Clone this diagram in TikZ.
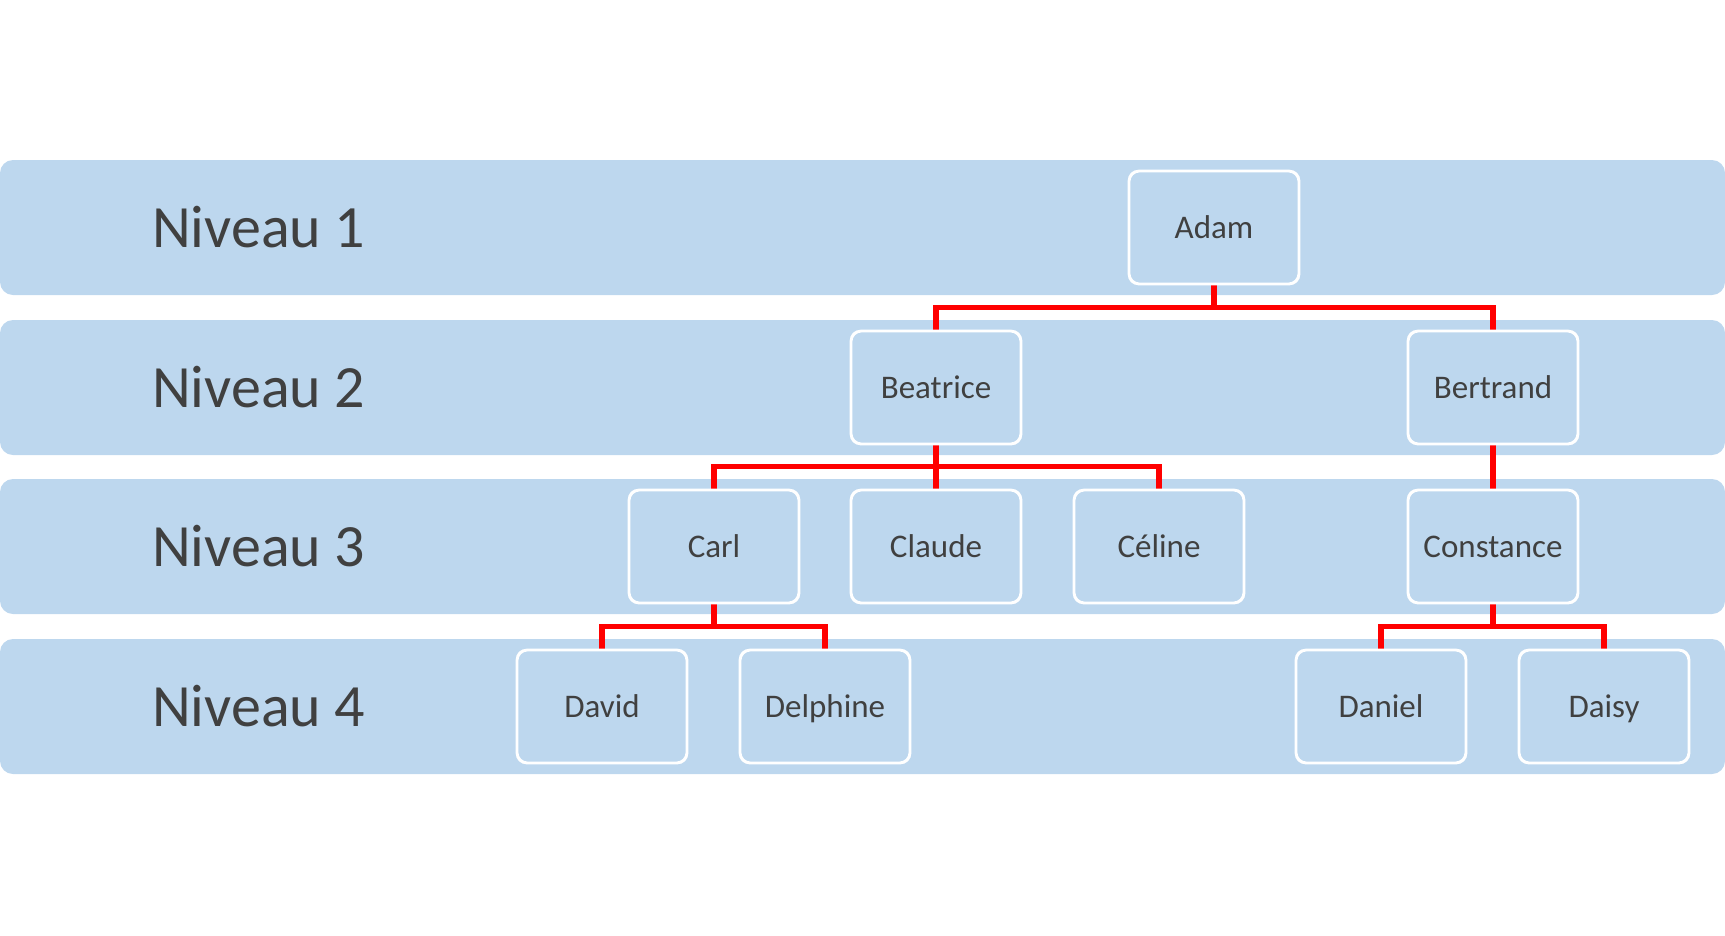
\documentclass[tikz,border=0pt]{standalone}
\usepackage{fontspec}
\setmainfont{Carlito}
\usetikzlibrary{calc}
\definecolor{bandblue}{HTML}{BDD7EE}
\definecolor{textgray}{HTML}{404040}
\definecolor{linkred}{HTML}{FF0000}
\tikzset{
  band/.style={fill=bandblue, draw=none, rounded corners=13pt},
  levellabel/.style={anchor=west, text=textgray, font=\fontsize{60}{70}\selectfont, inner sep=0pt},
  person/.style={draw=white, line width=1.8pt, fill=bandblue, rounded corners=10pt,
    minimum width=169pt, minimum height=112pt, inner sep=0pt, text=textgray,
    text height=24pt, text depth=3pt,
    font=\fontsize{33}{40}\selectfont},
  conn/.style={draw=linkred, line width=5.5pt, line join=miter}
}
\begin{document}
\begin{tikzpicture}[x=1pt,y=-1pt]
\useasboundingbox (0,0) rectangle (1725,935);
% bands
\path[band] (0,160) rectangle (1725,295);
\path[band] (0,320) rectangle (1725,455);
\path[band] (0,479) rectangle (1725,614);
\path[band] (0,639) rectangle (1725,774);
% level labels
\node[levellabel] (n1) at (152,227.5) {Niveau 1};
\node[levellabel] (n2) at (152,387.5) {Niveau 2};
\node[levellabel] (n3) at (152,546.5) {Niveau 3};
\node[levellabel] (n4) at (152,706.5) {Niveau 4};
% persons
\node[person] (adam) at (1214,227.5) {Adam};
\node[person] (beatrice) at (936,387.5) {Beatrice};
\node[person] (bertrand) at (1493,387.5) {Bertrand};
\node[person] (carl) at (714,546.5) {Carl};
\node[person] (claude) at (936,546.5) {Claude};
\node[person] (celine) at (1159,546.5) {Céline};
\node[person] (constance) at (1493,546.5) {Constance};
\node[person] (david) at (602,706.5) {David};
\node[person] (delphine) at (825,706.5) {Delphine};
\node[person] (daniel) at (1381,706.5) {Daniel};
\node[person] (daisy) at (1604,706.5) {Daisy};
% connectors
\draw[conn] (beatrice.north) |- ($(adam.south)+(0,23)$) -| (bertrand.north);
\draw[conn] (adam.south) -- ++(0,23);
\draw[conn] (carl.north) |- ($(beatrice.south)+(0,22)$) -| (celine.north);
\draw[conn] (beatrice.south) -- (claude.north);
\draw[conn] (bertrand.south) -- (constance.north);
\draw[conn] (david.north) |- ($(carl.south)+(0,23)$) -| (delphine.north);
\draw[conn] (carl.south) -- ++(0,23);
\draw[conn] (daniel.north) |- ($(constance.south)+(0,23)$) -| (daisy.north);
\draw[conn] (constance.south) -- ++(0,23);
% redraw borders on top
\foreach \n in {adam,beatrice,bertrand,carl,claude,celine,constance,david,delphine,daniel,daisy}{
  \draw[white, line width=1.8pt, rounded corners=10pt] (\n.south west) rectangle (\n.north east);
}
\end{tikzpicture}
\end{document}
